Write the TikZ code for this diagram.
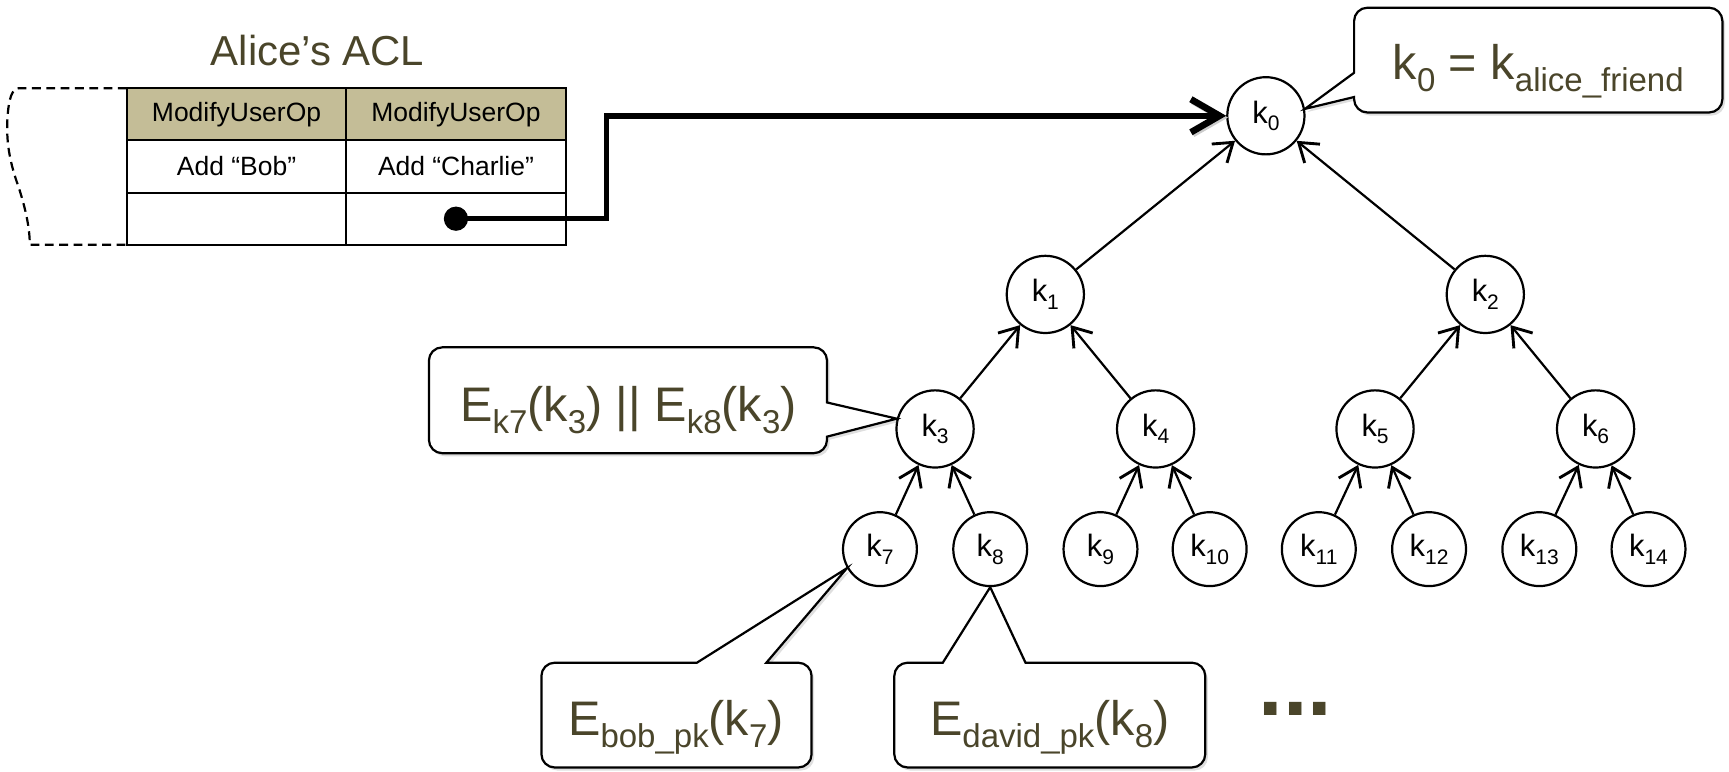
\documentclass[tikz,border=0pt]{standalone}
\usepackage{fontspec}
\setmainfont{Liberation Sans}
\usetikzlibrary{arrows.meta,shadows}
\definecolor{acltext}{HTML}{4A452A}
\definecolor{acltan}{HTML}{C4BD97}
\makeatletter
% lowered, smaller text for key indices
\newcommand\lsub[1]{\raisebox{-0.25em}{\fontsize{\the\dimexpr 0.68\dimexpr\f@size pt\relax\relax}{0pt}\selectfont #1}}
\makeatother
\tikzset{
  keynode/.style={circle, draw, line width=1pt, minimum size=35pt, inner sep=0pt,
    font=\fontsize{14}{16}\selectfont},
  leafnode/.style={keynode, minimum size=33.5pt},
  treeedge/.style={line width=1pt, -{Straight Barb[length=8pt,width=11pt,line width=1.3pt]}},
  cell/.style={draw, line width=0.9pt, minimum width=99.5pt, minimum height=23.67pt,
    inner sep=0pt, outer sep=0pt, font=\fontsize{12}{14}\selectfont},
  hcell/.style={cell, fill=acltan},
  bubble/.style={draw, line width=1pt, fill=white,
    drop shadow={opacity=0.25, shadow xshift=1.2pt, shadow yshift=-1.4pt}},
  ctext/.style={text=acltext, font=\fontsize{22}{26}\selectfont, inner sep=0pt, anchor=base},
  bigarrow/.style={line width=2.5pt, -{Straight Barb[length=13pt,width=15pt,line width=3pt]},
    preaction={draw=black!20, transform canvas={xshift=0.8pt,yshift=-0.8pt}}},
}
\begin{document}
\begin{tikzpicture}[x=0.5pt,y=-0.5pt]
\useasboundingbox (0,0) rectangle (1568,700);

% ---- access control list ----
\node[text=acltext, font=\fontsize{19}{22}\selectfont, anchor=base] (title) at (288,59) {Alice’s ACL};
\node[hcell] (h1) at (214.5,103.67) {ModifyUserOp};
\node[hcell] (h2) at (413.5,103.67) {ModifyUserOp};
\node[cell]  (r1) at (214.5,151)    {Add “Bob”};
\node[cell]  (r2) at (413.5,151)    {Add “Charlie”};
\node[cell]  (e1) at (214.5,198.33) {};
\node[cell]  (e2) at (413.5,198.33) {};
% torn-off earlier part of the list
\draw[dash pattern=on 4pt off 2.5pt, line width=1pt]
  (h1.north west) -- (17,80) .. controls (11,80) and (8,90) .. (7,104)
  .. controls (5,128) and (9,148) .. (17,170)
  .. controls (24,192) and (27,208) .. (27,222) -- (e1.south west);
\node[circle, fill, inner sep=0pt, minimum size=11pt] (dot) at (e2.center) {};

% ---- key tree ----
\node[keynode] (k0) at (1148,105) {k\lsub{0}};
\node[keynode] (k1) at (948,267)  {k\lsub{1}};
\node[keynode] (k2) at (1347,267) {k\lsub{2}};
\node[keynode] (k3) at (848,389)  {k\lsub{3}};
\node[keynode] (k4) at (1048,389) {k\lsub{4}};
\node[keynode] (k5) at (1247,389) {k\lsub{5}};
\node[keynode] (k6) at (1447,389) {k\lsub{6}};
\node[leafnode] (k7)  at (798,498)  {k\lsub{7}};
\node[leafnode] (k8)  at (898,498)  {k\lsub{8}};
\node[leafnode] (k9)  at (998,498)  {k\lsub{9}};
\node[leafnode] (k10) at (1097,498) {k\lsub{10}};
\node[leafnode] (k11) at (1196,498) {k\lsub{11}};
\node[leafnode] (k12) at (1296,498) {k\lsub{12}};
\node[leafnode] (k13) at (1396,498) {k\lsub{13}};
\node[leafnode] (k14) at (1495,498) {k\lsub{14}};

\foreach \c/\p in {k1/k0,k2/k0,k3/k1,k4/k1,k5/k2,k6/k2,
                   k7/k3,k8/k3,k9/k4,k10/k4,k11/k5,k12/k5,k13/k6,k14/k6}
  \draw[treeedge] (\c) -- (\p);

% ACL entry pointing at the root key
\draw[bigarrow] (dot.center) -- (550,198.33) |- (k0);

% ---- callouts ----
\draw[bubble] (1228,66) -- (1228,19) .. controls (1228,12.4) and (1233.4,7) .. (1240,7)
  -- (1550,7) .. controls (1556.6,7) and (1562,12.4) .. (1562,19)
  -- (1562,90) .. controls (1562,96.6) and (1556.6,102) .. (1550,102)
  -- (1240,102) .. controls (1233.4,102) and (1228,96.6) .. (1228,90)
  -- (1228,88) -- (k0.10) -- cycle;
\node[ctext] (t0) at (1395,72) {k\lsub{0} = k\lsub{alice\_friend}};

\draw[bubble] (750,365) -- (750,327) .. controls (750,320.4) and (744.6,315) .. (738,315)
  -- (401,315) .. controls (394.4,315) and (389,320.4) .. (389,327)
  -- (389,399) .. controls (389,405.6) and (394.4,411) .. (401,411)
  -- (738,411) .. controls (744.6,411) and (750,405.6) .. (750,399)
  -- (750,396) -- (k3.165) -- cycle;
\node[ctext] (t3) at (570,382) {E\lsub{k7}(k\lsub{3}) || E\lsub{k8}(k\lsub{3})};

\draw[bubble] (632,601) -- (503,601) .. controls (496.4,601) and (491,606.4) .. (491,613)
  -- (491,684) .. controls (491,690.6) and (496.4,696) .. (503,696)
  -- (724,696) .. controls (730.6,696) and (736,690.6) .. (736,684)
  -- (736,613) .. controls (736,606.4) and (730.6,601) .. (724,601)
  -- (695,601) -- (k7.210) -- cycle;
\node[ctext] (tb) at (613,667) {E\lsub{bob\_pk}(k\lsub{7})};

\draw[bubble] (855,601) -- (823,601) .. controls (816.4,601) and (811,606.4) .. (811,613)
  -- (811,684) .. controls (811,690.6) and (816.4,696) .. (823,696)
  -- (1081,696) .. controls (1087.6,696) and (1093,690.6) .. (1093,684)
  -- (1093,613) .. controls (1093,606.4) and (1087.6,601) .. (1081,601)
  -- (930,601) -- (k8.south) -- cycle;
\node[ctext] (td) at (952,667) {E\lsub{david\_pk}(k\lsub{8})};

\node[text=acltext, font=\bfseries\fontsize{40}{44}\selectfont, inner sep=0pt, anchor=base] (more) at (1175,649) {...};
\end{tikzpicture}
\end{document}
